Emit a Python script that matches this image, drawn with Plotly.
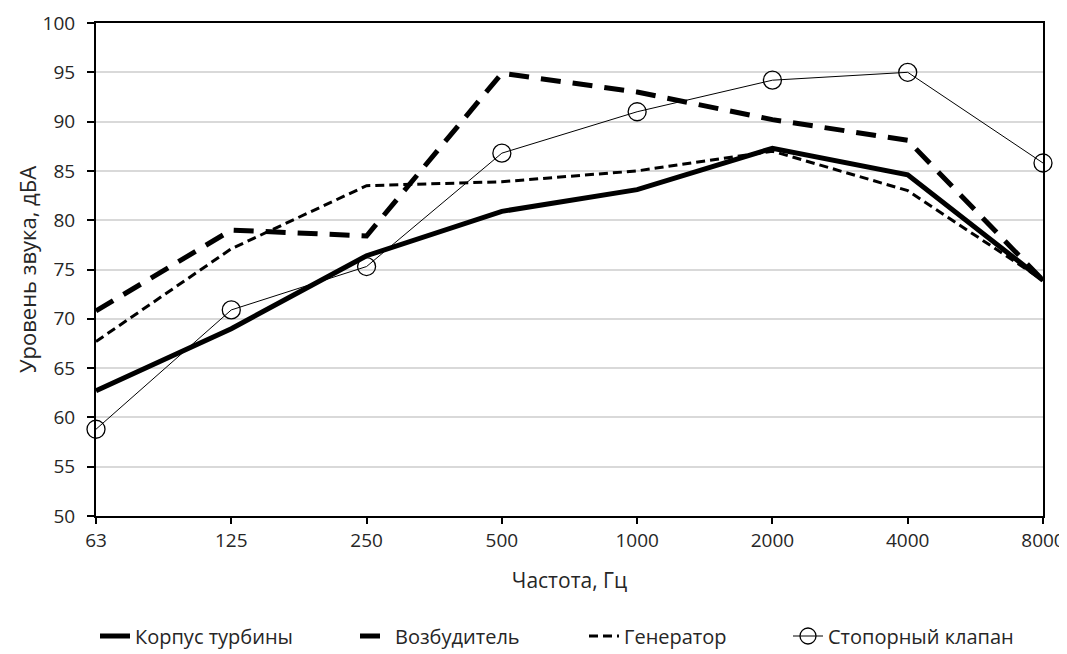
import plotly.graph_objects as go

freqs = ["63", "125", "250", "500", "1000", "2000", "4000", "8000"]
korpus = [62.7, 69.0, 76.4, 80.9, 83.1, 87.3, 84.6, 73.9]
vozbud = [70.8, 79.0, 78.4, 94.9, 93.0, 90.2, 88.1, 73.9]
generator = [67.7, 77.1, 83.5, 83.9, 85.0, 87.0, 83.0, 73.9]
stopor = [58.8, 70.9, 75.3, 86.8, 91.0, 94.2, 95.0, 85.8]

names = ["Корпус турбины", "Возбудитель", "Генератор", "Стопорный клапан"]
FONT = "Open Sans"
TXT = "#262626"

# page body has an 8px margin; compensate so the plot lands where the reference has it
W, H = 1059, 646
ML, MR, MT, MB = 88, 24, 15, 138
PW = W - ML - MR
PH = H - MT - MB

# text-start pixel positions of the legend entries (window coords)
leg_text_x = [137, 397, 626, 830]
leg_center_y = 636


def px_to_paper_x(px):
    return (px - 8 - ML) / PW


def py_to_paper_y(py):
    return (H - MB - (py - 8)) / PH


fig = go.Figure()
fig.add_trace(go.Scatter(x=freqs, y=korpus, name=names[0], mode="lines",
                         line=dict(color="black", width=5), cliponaxis=False,
                         legend="legend"))
fig.add_trace(go.Scatter(x=freqs, y=vozbud, name=names[1], mode="lines",
                         line=dict(color="black", width=5, dash="20px,12px"), cliponaxis=False,
                         legend="legend2"))
fig.add_trace(go.Scatter(x=freqs, y=generator, name=names[2], mode="lines",
                         line=dict(color="black", width=3, dash="9px,5px"), cliponaxis=False,
                         legend="legend3"))
fig.add_trace(go.Scatter(x=freqs, y=stopor, name=names[3], mode="lines+markers",
                         line=dict(color="black", width=1),
                         marker=dict(symbol="circle-open", size=18, color="black",
                                     line=dict(width=1.3, color="black")),
                         cliponaxis=False, legend="legend4"))

legend_common = dict(orientation="h", xanchor="left", yanchor="middle",
                     font=dict(family=FONT, size=20, color=TXT),
                     bgcolor="rgba(0,0,0,0)", borderwidth=0)
legends = {}
for i, key in enumerate(["legend", "legend2", "legend3", "legend4"]):
    legends[key] = dict(legend_common,
                        x=px_to_paper_x(leg_text_x[i] - 42),
                        y=py_to_paper_y(leg_center_y))

fig.update_layout(
    width=W, height=H,
    margin=dict(l=ML, r=MR, t=MT, b=MB, autoexpand=False),
    paper_bgcolor="white", plot_bgcolor="white",
    font=dict(family=FONT, size=19, color=TXT),
    showlegend=True,
    **legends,
)
fig.update_xaxes(
    type="category", categoryorder="array", categoryarray=freqs,
    range=[0, 7], showgrid=False, zeroline=False, automargin=False,
    showline=True, linecolor="black", linewidth=2, mirror=True,
    ticks="outside", ticklen=6, tickwidth=1.5, tickcolor="black",
    tickfont=dict(family=FONT, size=19, color=TXT),
    title=dict(text="Частота, Гц", font=dict(family=FONT, size=21, color=TXT), standoff=22),
)
fig.update_yaxes(
    range=[50, 100], dtick=5, showgrid=True, gridcolor="#d9d9d9", gridwidth=1.5,
    zeroline=False, showline=True, linecolor="black", linewidth=2, mirror=True,
    automargin=False, ticklabelstandoff=8,
    ticks="outside", ticklen=7, tickwidth=1.5, tickcolor="black",
    tickfont=dict(family=FONT, size=19, color=TXT),
    title=dict(text="Уровень звука, дБА", font=dict(family=FONT, size=22, color=TXT), standoff=0),
)

fig.write_html("out.html")
